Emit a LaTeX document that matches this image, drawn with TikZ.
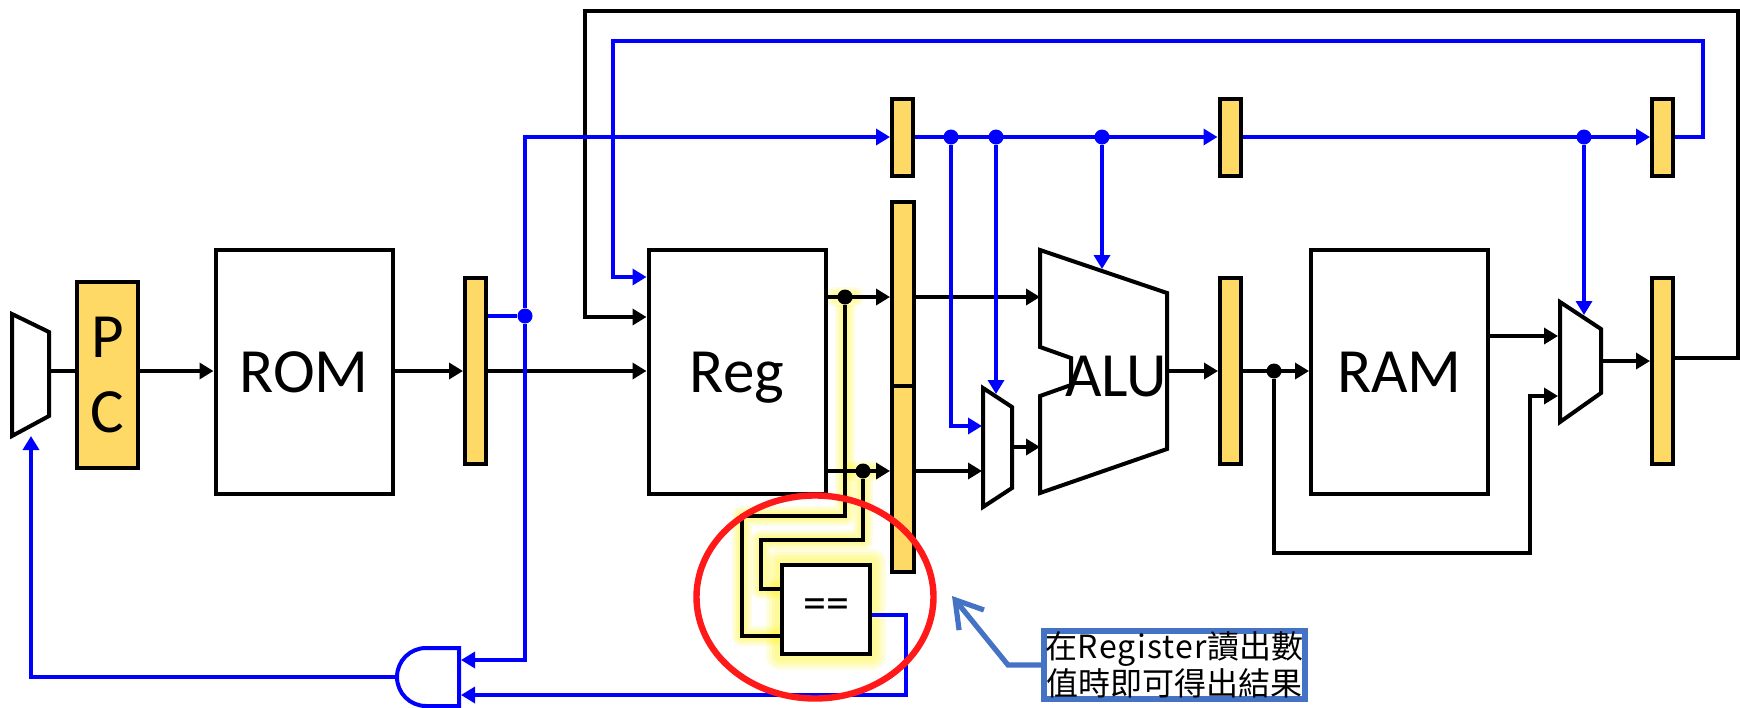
\documentclass[tikz,border=0pt]{standalone}
\usepackage{fontspec}
\setmainfont{Carlito}
\newfontfamily\cjkfont{Noto Sans CJK TC}
\usetikzlibrary{arrows.meta,backgrounds,shapes.geometric}

\definecolor{regfill}{RGB}{255,217,102}
\definecolor{wireblue}{RGB}{0,0,255}
\definecolor{markred}{RGB}{255,25,25}
\definecolor{noteblue}{RGB}{68,114,196}

\tikzset{
    block/.style={rectangle, draw, line width=2pt, inner sep=0pt, minimum width=88.5pt, minimum height=122pt, text height=20.5pt, text depth=0pt, font=\fontsize{31.5}{37}\selectfont},
    pipereg/.style={rectangle, draw, line width=2pt, fill=regfill, inner sep=0pt, minimum width=10.5pt},
    muxline/.style={draw, line width=2pt, line join=miter},
    wire/.style={line width=1.7pt},
    bluewire/.style={line width=1.7pt, wireblue},
    kdot/.style={circle, fill=black, inner sep=0pt, minimum size=7.5pt},
    bdot/.style={circle, fill=wireblue, inner sep=0pt, minimum size=7.5pt},
}

\begin{document}
\begin{tikzpicture}[x=0.5pt, y=-0.5pt, >={Triangle[length=7pt,width=8pt]}]
                \useasboundingbox (0,0) rectangle (1740,707);

                % Rows and bends
                \coordinate (rowmain) at (0,371);
                \coordinate (rowtop) at (0,137);
                \coordinate (rowa) at (0,297);
                \coordinate (rowb) at (0,471);
                \coordinate (muxpcout) at (51,371);
                \coordinate (muxpcin) at (31,436);
                \coordinate (andout) at (397,677);
                \coordinate (andina) at (461,660);
                \coordinate (andinb) at (461,695);
                \coordinate (bluea) at (613,41);
                \coordinate (blueb) at (1703,41);
                \coordinate (bluec) at (613,277);
                \coordinate (blacka) at (1738,358);
                \coordinate (blackb) at (1738,11);
                \coordinate (blackc) at (585,11);
                \coordinate (blackd) at (585,317);
                \coordinate (muxaina) at (982,426);
                \coordinate (muxainb) at (995,394);
                \coordinate (muxaout) at (1014,447);
                \coordinate (muxarow) at (982,471);
                \coordinate (aluina) at (1040,297);
                \coordinate (aluinb) at (1040,447);
                \coordinate (aluinc) at (1102,269);
                \coordinate (aluout) at (1169,371);
                \coordinate (muxbina) at (1558,336);
                \coordinate (muxbinb) at (1558,396);
                \coordinate (muxbinc) at (1584,315);
                \coordinate (muxbout) at (1603,361);
                \coordinate (rama) at (1274,553);
                \coordinate (ramb) at (1530,553);
                \coordinate (eqa) at (845,516);
                \coordinate (eqb) at (742,516);
                \coordinate (eqc) at (742,636);
                \coordinate (eqd) at (863,540);
                \coordinate (eqe) at (761,540);
                \coordinate (eqf) at (761,589);
                \coordinate (eqg) at (906,615);
                \coordinate (notea) at (1008,665);
                \coordinate (noteb) at (952,596);

                % Nodes
                \node[pipereg, minimum width=30.5pt, minimum height=93pt, font=\fontsize{31.5}{37.5}\selectfont, align=center] (pc) at (107.5,374.5) {P\\C};
                \node[block] (rom) at (304,371.5) {ROM};
                \node[pipereg, minimum height=93pt] (pipeif) at (475.5,370.5) {};
                \node[block] (reg) at (737,371.5) {Reg};
                \node[pipereg, minimum width=11pt, minimum height=92.5pt] (pipeida) at (903,294) {};
                \node[pipereg, minimum width=11pt, minimum height=93pt] (pipeidb) at (903,478.5) {};
                \node[pipereg, minimum height=38.5pt] (topa) at (902.5,137) {};
                \node[pipereg, minimum height=38.5pt] (topb) at (1230,137) {};
                \node[pipereg, minimum height=38.5pt] (topc) at (1662.5,137) {};
                \node[pipereg, minimum height=93pt] (pipeex) at (1230.5,370.5) {};
                \node[block] (ram) at (1399.5,371.5) {RAM};
                \node[pipereg, minimum height=93pt] (pipemem) at (1662.5,370.5) {};
                \node[rectangle, draw, line width=2pt, fill=white, inner sep=0pt, minimum width=44pt, minimum height=44.5pt, font=\fontsize{23}{26}\selectfont] (eq) at (826,609) {\raisebox{-1pt}{==}};
                \node[anchor=base, font=\fontsize{31.5}{37}\selectfont] (alu) at (1116,396.5) {ALU};
                \node[kdot] (kdota) at (845,297) {};
                \node[kdot] (kdotb) at (863,471) {};
                \node[kdot] (kdotc) at (1274,371) {};
                \node[bdot] (bdota) at (525,316) {};
                \node[bdot] (bdotb) at (951,137) {};
                \node[bdot] (bdotc) at (996,137) {};
                \node[bdot] (bdotd) at (1102,137) {};
                \node[bdot] (bdote) at (1584,137) {};

                % Mux, ALU and gate outlines
                \draw[muxline] (12,314)--(49,332)--(49,416)--(12,436)--cycle;
                \draw[muxline] (983,388)--(1012,407)--(1012,488)--(983,507)--cycle;
                \draw[muxline] (1560,302)--(1601,329)--(1601,393)--(1560,422)--cycle;
                \draw[muxline] (1040,250)--(1167,293)--(1167,449)--(1040,493)--(1040,396)--(1071,385)--(1071,358)--(1040,347)--cycle;
                \draw[line width=2pt, wireblue] (459,648)--(426,648) arc[start angle=90, end angle=270, radius=14.5pt]--(459,706)--cycle;

                % Glow under the compare wires
                \begin{scope}[on background layer]
                \foreach \glowsize in {20,16,12,8} {
                    \draw[yellow, opacity=0.12, line width=\glowsize*0.5pt, line join=round] (kdota) -- (eqa) -- (eqb) -- (eqc) -- (eq.west |- eqc);
                    \draw[yellow, opacity=0.12, line width=\glowsize*0.5pt, line join=round] (kdotb) -- (eqd) -- (eqe) -- (eqf) -- (eq.west |- eqf);
                    \draw[yellow, opacity=0.12, line width=\glowsize*0.5pt, line cap=round] (836,297) -- (854,297);
                    \draw[yellow, opacity=0.12, line width=\glowsize*0.5pt, line cap=round] (852,471) -- (874,471);
                }
                \foreach \glowsize in {28,22,16,10} {
                    \draw[yellow, opacity=0.12, line width=\glowsize*0.5pt, line join=round] (eq.north west) rectangle (eq.south east);
                }
                \end{scope}

                % Edges
                \draw[wire] (muxpcout) -- (pc.west |- muxpcout);
                \draw[wire,->] (pc.east |- rowmain) -- (rom.west |- rowmain);
                \draw[wire,->] (rom.east |- rowmain) -- (pipeif.west |- rowmain);
                \draw[wire,->] (pipeif.east |- rowmain) -- (reg.west |- rowmain);
                \draw[wire,->] (reg.east |- rowa) -- (pipeida.west |- rowa);
                \draw[wire,->] (reg.east |- rowb) -- (pipeidb.west |- rowb);
                \draw[wire,->] (pipeida.east |- rowa) -- (aluina);
                \draw[wire,->] (pipeidb.east |- rowb) -- (muxarow);
                \draw[wire,->] (muxaout) -- (aluinb);
                \draw[wire,->] (aluout) -- (pipeex.west |- aluout);
                \draw[wire,->] (pipeex.east |- rowmain) -- (ram.west |- rowmain);
                \draw[wire,->] (ram.east |- muxbina) -- (muxbina);
                \draw[wire,->] (kdotc) -- (rama) -- (ramb) -- (ramb |- muxbinb) -- (muxbinb);
                \draw[wire,->] (muxbout) -- (pipemem.west |- muxbout);
                \draw[wire,->] (pipemem.east |- blacka) -- (blacka) -- (blackb) -- (blackc) -- (blackd) -- (reg.west |- blackd);
                \draw[wire] (kdota) -- (eqa) -- (eqb) -- (eqc) -- (eq.west |- eqc);
                \draw[wire] (kdotb) -- (eqd) -- (eqe) -- (eqf) -- (eq.west |- eqf);
                \draw[bluewire] (pipeif.east |- bdota) -- (bdota);
                \draw[bluewire,->] (bdota) |- (topa.west |- rowtop);
                \draw[bluewire,->] (bdota) |- (andina);
                \draw[bluewire,->] (topa.east |- rowtop) -- (topb.west |- rowtop);
                \draw[bluewire,->] (topb.east |- rowtop) -- (topc.west |- rowtop);
                \draw[bluewire,->] (topc.east |- rowtop) -| (blueb) -- (bluea) -- (bluec) -- (reg.west |- bluec);
                \draw[bluewire,->] (bdotb) |- (muxaina);
                \draw[bluewire,->] (bdotc) -- (bdotc |- muxainb);
                \draw[bluewire,->] (bdotd) -- (aluinc);
                \draw[bluewire,->] (bdote) -- (muxbinc);
                \draw[bluewire,->] (andout) -| (muxpcin);
                \draw[bluewire,->] (eq.east |- eqg) -- (eqg) |- (andinb);

                % Note
                \node[ellipse, draw=markred, line width=3.2pt, inner sep=0pt, minimum width=118.5pt, minimum height=101.5pt] (mark) at (815,597) {};
                \node[rectangle, draw=noteblue, line width=2.8pt, fill=white, inner sep=0pt, minimum width=130.5pt, minimum height=34pt, align=center, font=\fontsize{16}{16}\selectfont\cjkfont] (note) at (1174.5,665) {在{\addfontfeature{LetterSpace=4}Register}讀出數\\值時即可得出結果};
                \draw[noteblue, line width=2.6pt, -{Straight Barb[length=13pt,width=16pt,line width=2.6pt]}] (note.west |- notea) -- (notea) -- (noteb);
            \end{tikzpicture}
\end{document}
